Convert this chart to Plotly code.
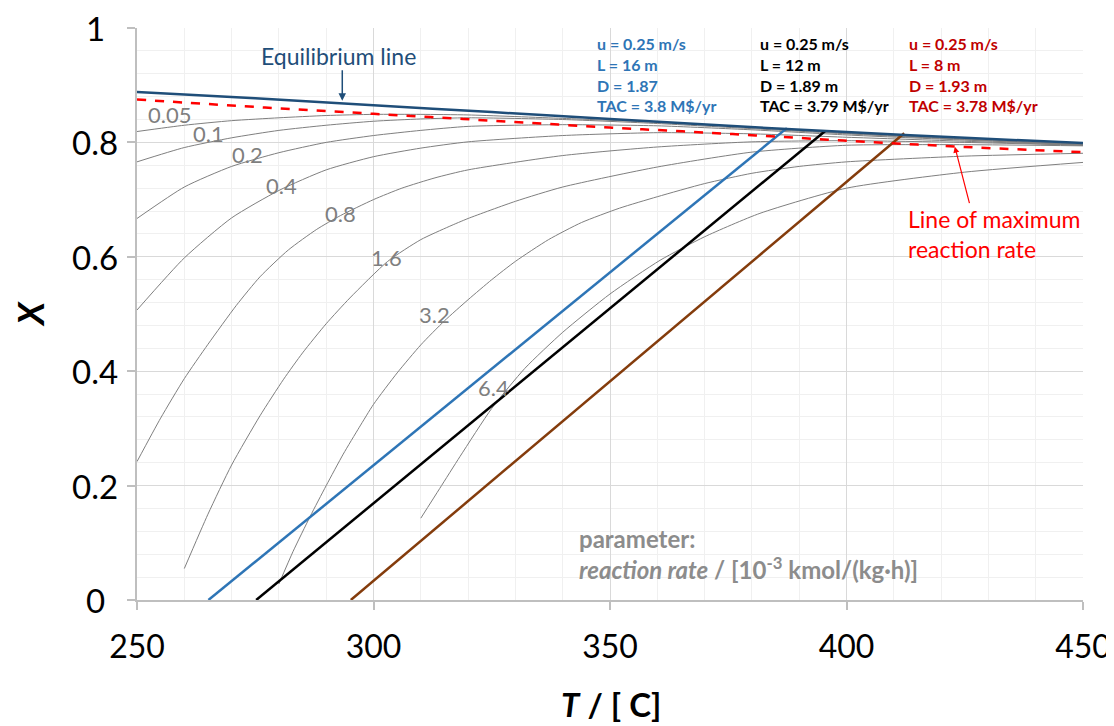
import plotly.graph_objects as go

# ---------------- data ----------------
eq_T = [250, 275, 300, 325, 350, 375, 400, 425, 450]
eq_X = [0.888, 0.877, 0.865, 0.853, 0.841, 0.829, 0.818, 0.808, 0.799]

maxrate_T = [250, 275, 300, 325, 350, 375, 400, 425, 450]
maxrate_X = [0.875, 0.862, 0.850, 0.838, 0.826, 0.815, 0.803, 0.792, 0.783]

rate_labels = ["0.05", "0.1", "0.2", "0.4", "0.8", "1.6", "3.2", "6.4"]

r005_T = [250, 260, 270, 280, 290, 300, 310, 320, 340, 360, 380, 400, 425, 450]
r005_X = [0.819, 0.830, 0.838, 0.843, 0.847, 0.849, 0.849, 0.848, 0.842, 0.835, 0.826, 0.816, 0.806, 0.797]

r01_T = [250, 260, 270, 280, 290, 300, 310, 320, 340, 360, 380, 400, 425, 450]
r01_X = [0.766, 0.791, 0.808, 0.821, 0.830, 0.837, 0.841, 0.843, 0.840, 0.833, 0.824, 0.815, 0.805, 0.796]

r02_T = [250, 260, 270, 280, 290, 300, 310, 320, 340, 360, 380, 400, 425, 450]
r02_X = [0.667, 0.722, 0.758, 0.782, 0.800, 0.812, 0.821, 0.828, 0.831, 0.829, 0.822, 0.813, 0.804, 0.796]

r04_T = [250, 260, 270, 280, 290, 300, 310, 320, 340, 360, 380, 400, 425, 450]
r04_X = [0.507, 0.598, 0.668, 0.716, 0.752, 0.775, 0.790, 0.801, 0.812, 0.817, 0.815, 0.809, 0.802, 0.795]

r08_T = [250, 255, 260, 265, 271, 276, 282, 288, 293, 300, 306, 313, 320, 340, 360, 380, 400, 425, 450]
r08_X = [0.242, 0.318, 0.387, 0.447, 0.515, 0.565, 0.612, 0.648, 0.672, 0.700, 0.720, 0.738, 0.752, 0.777, 0.792, 0.801, 0.803, 0.800, 0.795]

r16_T = [260, 265, 270, 276, 281, 285, 290, 295, 303, 310, 316, 320, 330, 340, 360, 380, 400, 425, 450]
r16_X = [0.055, 0.150, 0.236, 0.322, 0.386, 0.432, 0.483, 0.528, 0.592, 0.630, 0.653, 0.667, 0.697, 0.722, 0.757, 0.783, 0.795, 0.796, 0.794]

r32_T = [280, 283, 286.6, 290, 293.6, 297, 300, 305, 310, 315, 320, 325, 330, 337, 344, 352, 360, 370, 380, 390, 400, 425, 450]
r32_X = [0.028, 0.085, 0.146, 0.200, 0.255, 0.302, 0.342, 0.397, 0.446, 0.488, 0.525, 0.560, 0.592, 0.630, 0.660, 0.685, 0.705, 0.728, 0.746, 0.758, 0.766, 0.776, 0.781]

r64_T = [310, 314, 318.3, 325, 332, 340, 350, 360.6, 370, 381.7, 400, 425, 450]
r64_X = [0.143, 0.195, 0.251, 0.335, 0.405, 0.468, 0.535, 0.594, 0.635, 0.676, 0.720, 0.748, 0.765]

rate_T = [r005_T, r01_T, r02_T, r04_T, r08_T, r16_T, r32_T, r64_T]
rate_X = [r005_X, r01_X, r02_X, r04_X, r08_X, r16_X, r32_X, r64_X]

# label positions of the iso-rate curves (T, X)
label_T = [256.8, 265.2, 273.3, 280.6, 293.0, 302.8, 312.9, 325.3]
label_X = [0.848, 0.816, 0.778, 0.724, 0.676, 0.599, 0.500, 0.372]

# operating lines (T, X) endpoints
op16_T = [265.1, 387.4]
op16_X = [0.0, 0.825]
op12_T = [275.2, 395.5]
op12_X = [0.0, 0.820]
op8_T = [295.2, 412.2]
op8_X = [0.0, 0.816]

x_ticks = [250, 300, 350, 400, 450]
y_ticks = [0, 0.2, 0.4, 0.6, 0.8, 1]
y_ticktext = ["0", "0.2", "0.4", "0.6", "0.8", "1"]

FONT = "Lato, 'Open Sans', sans-serif"
GRAY = "#7f7f7f"

fig = go.Figure()

for t, x in zip(rate_T, rate_X):
    fig.add_trace(go.Scatter(x=t, y=x, mode="lines",
                             line=dict(color=GRAY, width=1, shape="spline", smoothing=0.6),
                             hoverinfo="skip", showlegend=False))

fig.add_trace(go.Scatter(x=op16_T, y=op16_X, mode="lines",
                         line=dict(color="#2E75B6", width=2.5), showlegend=False))
fig.add_trace(go.Scatter(x=op12_T, y=op12_X, mode="lines",
                         line=dict(color="#000000", width=2.5), showlegend=False))
fig.add_trace(go.Scatter(x=op8_T, y=op8_X, mode="lines",
                         line=dict(color="#843C0C", width=2.5), showlegend=False))

fig.add_trace(go.Scatter(x=eq_T, y=eq_X, mode="lines",
                         line=dict(color="#1F4E79", width=2.5, shape="spline"), showlegend=False))
fig.add_trace(go.Scatter(x=maxrate_T, y=maxrate_X, mode="lines",
                         line=dict(color="#FF0000", width=2.5, dash="dash", shape="spline"),
                         showlegend=False))

ann = []
for lab, t, x in zip(rate_labels, label_T, label_X):
    ann.append(dict(x=t, y=x, text=lab, showarrow=False,
                    font=dict(family=FONT, size=22, color=GRAY)))

# y tick labels (centred, as in the reference)
for v, s in zip(y_ticks, y_ticktext):
    ann.append(dict(x=-0.044, xref="paper", y=v, yref="y", text=s, showarrow=False,
                    xanchor="center", yanchor="middle",
                    font=dict(family=FONT, size=33, color="#000000")))

ann.append(dict(x=292.5, y=0.951, text="Equilibrium line", showarrow=False,
                font=dict(family=FONT, size=23, color="#1F4E79")))
ann.append(dict(x=293.4, y=0.873, text="", showarrow=True, ax=0, ay=-32,
                arrowhead=2, arrowsize=1, arrowwidth=1.5, arrowcolor="#1F4E79"))

ann.append(dict(x=412.6, y=0.640, text="Line of maximum<br>reaction rate", showarrow=False,
                xanchor="left", yanchor="middle", align="left",
                font=dict(family=FONT, size=23, color="#FF0000")))
ann.append(dict(x=422.9, y=0.7925, text="", showarrow=True, ax=15, ay=58,
                arrowhead=2, arrowsize=1, arrowwidth=1.2, arrowcolor="#FF0000"))

blocks = [
    (346.8, "#2E75B6", "u = 0.25 m/s<br>L = 16 m<br>D = 1.87<br>TAC = 3.8 M$/yr"),
    (381.3, "#000000", "u = 0.25 m/s<br>L = 12 m<br>D = 1.89 m<br>TAC = 3.79 M$/yr"),
    (412.8, "#C00000", "u = 0.25 m/s<br>L = 8 m<br>D = 1.93 m<br>TAC = 3.78 M$/yr"),
]
for t, c, txt in blocks:
    ann.append(dict(x=t, y=0.918, text="<b>" + txt + "</b>", showarrow=False,
                    xanchor="left", yanchor="middle", align="left",
                    font=dict(family=FONT, size=16, color=c)))

ann.append(dict(x=343.0, y=0.081,
                text="<b>parameter:</b><br><b><i>reaction rate</i> / [10<sup>-3</sup> kmol/(kg·h)]</b>",
                showarrow=False, xanchor="left", yanchor="middle", align="left",
                font=dict(family=FONT, size=24, color="#8c8c8c")))

ann.append(dict(x=0.501, y=-0.181, xref="paper", yref="paper",
                xanchor="center", yanchor="middle",
                text="<b><i>T</i> / [ C]</b>", showarrow=False,
                font=dict(family=FONT, size=33, color="#000000")))
ann.append(dict(x=-0.113, y=0.5, xref="paper", yref="paper",
                xanchor="center", yanchor="middle",
                text="<b><i>X</i></b>", showarrow=False, textangle=-90,
                font=dict(family=FONT, size=36, color="#000000")))

# the page body adds an 8 px offset, so the figure is 8 px smaller on each side
fig.update_layout(
    width=1106, height=718,
    margin=dict(l=129, r=31, t=20, b=126),
    paper_bgcolor="white", plot_bgcolor="white",
    showlegend=False,
    annotations=ann,
    font=dict(family=FONT),
)

fig.update_xaxes(range=[250, 450], tickvals=x_ticks, automargin=False,
                 showgrid=True, gridcolor="#d9d9d9", gridwidth=1,
                 minor=dict(dtick=10, showgrid=True, gridcolor="#f0f0f0", gridwidth=1),
                 showline=True, linecolor="#bfbfbf", linewidth=2,
                 ticks="outside", ticklen=8, tickcolor="#bfbfbf", tickwidth=1.5,
                 ticklabelstandoff=10,
                 tickfont=dict(family=FONT, size=32, color="#000000"),
                 zeroline=False, mirror=False)
fig.update_yaxes(range=[0, 1], tickvals=y_ticks, automargin=False,
                 showticklabels=False,
                 showgrid=True, gridcolor="#d9d9d9", gridwidth=1,
                 minor=dict(dtick=0.04, showgrid=True, gridcolor="#f0f0f0", gridwidth=1),
                 showline=True, linecolor="#bfbfbf", linewidth=2,
                 ticks="outside", ticklen=8, tickcolor="#bfbfbf", tickwidth=1.5,
                 zeroline=False)

fig.write_html("out.html")
